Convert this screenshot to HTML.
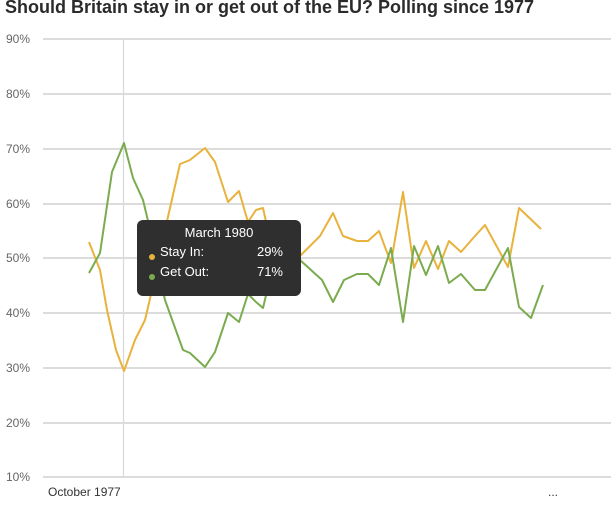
<!DOCTYPE html>
<html><head><meta charset="utf-8"><style>
html,body{margin:0;padding:0;background:#fff;}
body{width:611px;height:511px;overflow:hidden;position:relative;font-family:"Liberation Sans",sans-serif;}
.t{position:absolute;left:5px;top:-3px;font-size:18px;font-weight:bold;color:#2b2b2b;white-space:nowrap;}
</style></head><body>
<div class="t">Should Britain stay in or get out of the EU? Polling since 1977</div>
<svg width="611" height="511" style="position:absolute;left:0;top:0">
<g stroke="#c8c8c8" stroke-width="1.2">
<line x1="43" x2="611" y1="39" y2="39"/><line x1="43" x2="611" y1="94" y2="94"/>
<line x1="43" x2="611" y1="149" y2="149"/><line x1="43" x2="611" y1="204" y2="204"/>
<line x1="43" x2="611" y1="258" y2="258"/><line x1="43" x2="611" y1="313" y2="313"/>
<line x1="43" x2="611" y1="368" y2="368"/><line x1="43" x2="611" y1="423" y2="423"/>
<line x1="43" x2="611" y1="477" y2="477"/>
<line x1="123.5" x2="123.5" y1="39" y2="477" stroke="#d8d8d8"/>
</g>
<g font-family="Liberation Sans,sans-serif" font-size="12" fill="#666">
<text x="6" y="43">90%</text><text x="6" y="98">80%</text><text x="6" y="153">70%</text>
<text x="6" y="208">60%</text><text x="6" y="262">50%</text><text x="6" y="317">40%</text>
<text x="6" y="372">30%</text><text x="6" y="427">20%</text><text x="6" y="481">10%</text>
<text x="48" y="496" fill="#333">October 1977</text><text x="548" y="496" fill="#333">...</text>
</g>
<polyline fill="none" stroke="#e8b23c" stroke-width="2" stroke-linejoin="round" points="89,242 100,270 107,310 116,350 124,371 135,340 145,320 149,303 165,230 180,164 190,160 205,148 215,162 228,202 239,191 248,222 256,210 263,208 270,240 285,250 300,256 320,236 333,213 343,236 357,241 368,241 379,231 391,263 403,192 414,268 426,241 438,269 449,241 461,252 475,236 485,225 508,267 519,208 541,229"/>
<polyline fill="none" stroke="#7aab4e" stroke-width="2" stroke-linejoin="round" points="89,273 100,253 112,172 124,143 133,178 143,200 149,225 165,300 183,350 190,353 205,367 215,352 228,313 239,322 248,294 256,302 263,308 272,270 285,255 300,260 322,280 333,302 344,280 357,274 368,274 379,285 391,248 403,322 414,246 426,275 438,246 449,283 461,274 475,290 485,290 508,248 519,307 531,318 543,285"/>
<rect x="137" y="220" width="164" height="76" rx="6" fill="#2f2f2f"/>
<g font-family="Liberation Sans,sans-serif" font-size="13" fill="#fff">
<text x="219" y="237" text-anchor="middle">March 1980</text>
<text x="160" y="256">Stay In:</text><text x="283" y="256" text-anchor="end">29%</text>
<text x="160" y="276">Get Out:</text><text x="283" y="276" text-anchor="end">71%</text>
</g>
<circle cx="152" cy="257" r="3" fill="#e8b23c"/><circle cx="152" cy="277" r="3" fill="#7aab4e"/>
</svg>
</body></html>
